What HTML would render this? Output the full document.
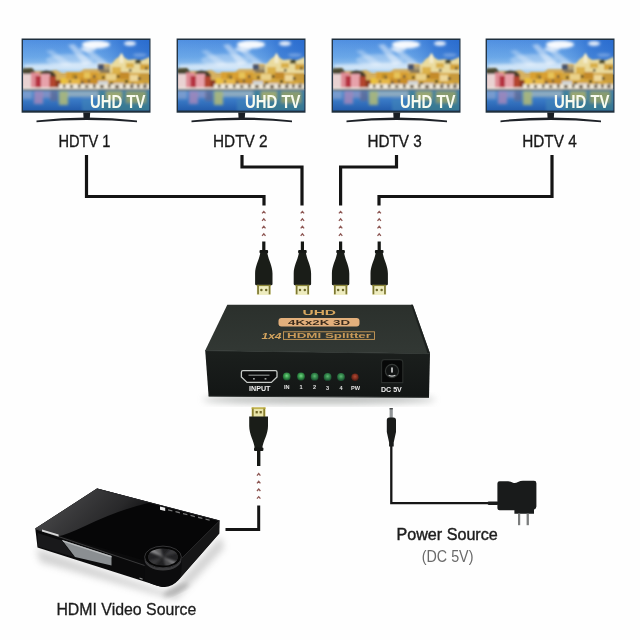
<!DOCTYPE html>
<html>
<head>
<meta charset="utf-8">
<title>1x4 HDMI Splitter connection diagram</title>
<style>
html,body{margin:0;padding:0;background:#fefefe;}
body{width:640px;height:640px;overflow:hidden;font-family:"Liberation Sans",sans-serif;}
svg{display:block;}
text{font-family:"Liberation Sans",sans-serif;}
</style>
</head>
<body>
<svg width="640" height="640" viewBox="0 0 640 640">
<defs>
  <filter id="b1" x="-20%" y="-20%" width="140%" height="140%"><feGaussianBlur stdDeviation="1"/></filter>
  <filter id="b2" x="-20%" y="-20%" width="140%" height="140%"><feGaussianBlur stdDeviation="2"/></filter>
  <filter id="b3" x="-30%" y="-30%" width="160%" height="160%"><feGaussianBlur stdDeviation="3.5"/></filter>
  <filter id="b6" x="-50%" y="-50%" width="200%" height="200%"><feGaussianBlur stdDeviation="6"/></filter>

  <filter id="b05" x="-20%" y="-20%" width="140%" height="140%"><feGaussianBlur stdDeviation="0.5"/></filter>
  <linearGradient id="topface" x1="0" y1="0" x2="0" y2="1">
    <stop offset="0" stop-color="#2b302c"/>
    <stop offset="1" stop-color="#323834"/>
  </linearGradient>
  <linearGradient id="frontface" x1="0" y1="0" x2="0" y2="1">
    <stop offset="0" stop-color="#1b1f1d"/>
    <stop offset="1" stop-color="#131615"/>
  </linearGradient>
  <linearGradient id="ptop" x1="0" y1="0" x2="1" y2="0.35">
    <stop offset="0" stop-color="#2a2a2c"/>
    <stop offset="0.45" stop-color="#121213"/>
    <stop offset="1" stop-color="#050505"/>
  </linearGradient>
  <linearGradient id="pgloss" x1="0" y1="0.2" x2="1" y2="0.6">
    <stop offset="0" stop-color="#646466" stop-opacity="0.8"/>
    <stop offset="0.7" stop-color="#404042" stop-opacity="0.6"/>
    <stop offset="1" stop-color="#2a2a2c" stop-opacity="0.3"/>
  </linearGradient>
  <radialGradient id="pdial" cx="0.35" cy="0.3" r="0.9">
    <stop offset="0" stop-color="#6a6a6c"/>
    <stop offset="0.55" stop-color="#2c2c2e"/>
    <stop offset="1" stop-color="#0a0a0a"/>
  </radialGradient>
  <filter id="b03" x="-10%" y="-20%" width="120%" height="140%"><feGaussianBlur stdDeviation="0.35"/></filter>
  <filter id="b07" x="-10%" y="-10%" width="120%" height="120%"><feGaussianBlur stdDeviation="0.85"/></filter>
  <filter id="b15" x="-20%" y="-20%" width="140%" height="140%"><feGaussianBlur stdDeviation="1.4"/></filter>
  <radialGradient id="ledg" cx="0.5" cy="0.42" r="0.55">
    <stop offset="0" stop-color="#7ad38a"/>
    <stop offset="0.45" stop-color="#3fa452"/>
    <stop offset="1" stop-color="#1a5a2e"/>
  </radialGradient>
  <radialGradient id="ledg2" cx="0.5" cy="0.42" r="0.55">
    <stop offset="0" stop-color="#5fb776"/>
    <stop offset="0.45" stop-color="#378c4e"/>
    <stop offset="1" stop-color="#1a5030"/>
  </radialGradient>
  <radialGradient id="ledr" cx="0.5" cy="0.42" r="0.55">
    <stop offset="0" stop-color="#b04a34"/>
    <stop offset="0.5" stop-color="#8a3222"/>
    <stop offset="1" stop-color="#4a1c14"/>
  </radialGradient>
  <linearGradient id="sky" x1="0" y1="0" x2="0" y2="1">
    <stop offset="0" stop-color="#4a8adf"/>
    <stop offset="0.5" stop-color="#6aa7e8"/>
    <stop offset="0.85" stop-color="#a4cdf0"/>
    <stop offset="1" stop-color="#c4ddf4"/>
  </linearGradient>
  <linearGradient id="skyh" x1="0" y1="0" x2="1" y2="0">
    <stop offset="0" stop-color="#6aa6e6" stop-opacity="0.2"/>
    <stop offset="0.5" stop-color="#6aa6e6" stop-opacity="0"/>
    <stop offset="0.8" stop-color="#1c5fc8" stop-opacity="0.5"/>
    <stop offset="1" stop-color="#1c5fc8" stop-opacity="0.7"/>
  </linearGradient>
  <linearGradient id="water" x1="0" y1="0" x2="0" y2="1">
    <stop offset="0" stop-color="#4c8cd0"/>
    <stop offset="0.5" stop-color="#3878c4"/>
    <stop offset="1" stop-color="#2058a8"/>
  </linearGradient>
  <clipPath id="dialclip"><ellipse cx="163" cy="557" rx="15.2" ry="8.8"/></clipPath>
  <clipPath id="scr"><rect x="0.9" y="0.9" width="126.4" height="70.5"/></clipPath>

  <!-- TV 128.5 x 84 -->
  <g id="tv">
    <rect x="-0.4" y="-0.5" width="128.9" height="74.2" fill="#1f2f3d"/>
    <g clip-path="url(#scr)">
      <rect x="0.5" y="0.5" width="127.5" height="35" fill="url(#sky)"/>
      <rect x="0.5" y="0.5" width="127.5" height="35" fill="url(#skyh)"/>
      <rect x="0.5" y="50" width="127.5" height="23" fill="url(#water)"/>
      <!-- clouds -->
      <g filter="url(#b15)" fill="#ffffff">
        <ellipse cx="74" cy="5.5" rx="14" ry="4" opacity="0.95"/>
        <ellipse cx="66" cy="10" rx="8" ry="3" opacity="0.6"/>
        <ellipse cx="108" cy="4.5" rx="6" ry="2.4" opacity="0.85"/>
        <path d="M46,6 L52,5 L70,24 L62,26 Z" opacity="0.45"/>
        <path d="M60,10 L66,9 L86,24 L78,26 Z" opacity="0.4"/>
        <path d="M24,12 L30,11 L50,25 L42,27 Z" opacity="0.3"/>
        <ellipse cx="48" cy="21" rx="24" ry="6" opacity="0.3"/>
        <path d="M2,25.5 L70,23.5 L92,25 L92,31 L2,31 Z" opacity="0.55"/>
        <ellipse cx="118" cy="16" rx="7" ry="1.8" opacity="0.3"/>
      </g>
      <!-- town -->
      <g filter="url(#b07)">
        <!-- base hill -->
        <path d="M0,30 L10,29 L12,32 L28,32 L34,31 L40,34 L58,33 L62,30 L76,30 L76,25 L88,25 L88,27 L94,20 L97,18 L99.5,14 L102,18.5 L106,21 L114,20.5 L117,22.5 L121,21 L128,18 L128,52 L0,52 Z" fill="#d6b060"/>
        <!-- left trees -->
        <path d="M0,29.5 L10,29 L13,32.5 L13,36 L0,36 Z" fill="#4b4a30"/>
        <path d="M18,33 L24,31.5 L31,32.5 L34,36 L34,39 L20,38 Z" fill="#4a3d2a"/>
        <!-- left buildings -->
        <rect x="0" y="35" width="10" height="15" fill="#e9d2d2"/>
        <rect x="9" y="33.5" width="9" height="16.5" fill="#df8c96"/>
        <rect x="13.5" y="37" width="5.5" height="13" fill="#b5303f"/>
        <rect x="19" y="35" width="9" height="15" fill="#e7a2ab"/>
        <rect x="27.5" y="37.5" width="6.5" height="12.5" fill="#b3442f"/>
        <rect x="33.5" y="41" width="5.5" height="9" fill="#8a3a22"/>
        <rect x="38.5" y="39" width="6" height="11.5" fill="#ebc23c"/>
        <!-- centre -->
        <rect x="44" y="33" width="32" height="13" fill="#d9a032"/>
        <rect x="44" y="40" width="14" height="6" fill="#e6b848"/>
        <rect x="58" y="39" width="18" height="7" fill="#c98f2c"/>
        <rect x="44" y="45.4" width="32" height="4.2" fill="#e6dcc6"/>
        <rect x="50" y="35" width="5" height="5" fill="#b88a28"/>
        <rect x="62" y="33.5" width="6" height="6" fill="#e7c45a"/>
        <g fill="#6c5a3a">
          <rect x="47" y="41" width="2" height="3"/><rect x="53" y="37" width="2" height="3"/><rect x="59" y="42" width="2.4" height="3"/><rect x="66" y="40.5" width="2" height="3"/><rect x="71" y="36" width="2.4" height="3"/><rect x="50" y="46.4" width="2" height="2.4"/><rect x="62" y="46.4" width="2" height="2.4"/><rect x="70" y="46.4" width="2" height="2.4"/>
        </g>
        <!-- dark building -->
        <rect x="76" y="25.4" width="6" height="6" fill="#44526e"/>
        <rect x="82" y="27" width="6" height="5" fill="#b0a078"/>
        <rect x="78" y="30.5" width="12" height="4" fill="#8a7a5a"/>
        <!-- right hill -->
        <path d="M88,27 L94,20 L97,18 L99.5,14 L102,18.5 L106,21 L114,20.5 L117,22.5 L121,21 L128,18 L128,34 L88,34 Z" fill="#eadb9e"/>
        <path d="M97.5,17.5 L99.5,14 L101.5,17.5 L101.5,24 L97.5,24 Z" fill="#f4eccc"/>
        <rect x="113" y="21" width="6" height="3.6" fill="#4c4a2c"/>
        <rect x="104" y="24" width="8" height="5" fill="#d8b04a"/>
        <rect x="118" y="25" width="10" height="6" fill="#d3a43c"/>
        <rect x="90" y="28" width="9" height="6" fill="#dcb24c"/>
        <rect x="76" y="34" width="52" height="16" fill="#d4a63c"/>
        <rect x="84" y="35" width="10" height="6" fill="#ead28a"/>
        <rect x="98" y="33" width="9" height="7" fill="#c48a2c"/>
        <rect x="108" y="36" width="8" height="6" fill="#eed89a"/>
        <rect x="118" y="34" width="10" height="8" fill="#c89a3a"/>
        <g fill="#4e4024">
          <rect x="80" y="37" width="2.4" height="3"/><rect x="95" y="36" width="2.4" height="3"/><rect x="103" y="41" width="3" height="3"/><rect x="109" y="44" width="3" height="4"/><rect x="116" y="38" width="2.4" height="3"/><rect x="122" y="44" width="3" height="3"/><rect x="88" y="43" width="3" height="3"/><rect x="107" y="30" width="2.4" height="2.6"/><rect x="123" y="28" width="2.4" height="2.6"/>
        </g>
        <rect x="76" y="42" width="10" height="5" fill="#cfd3d6"/>
        <rect x="92" y="44" width="10" height="4" fill="#d8c8b8"/>
        <!-- shoreline: boats + dark line -->
        <rect x="0" y="48.4" width="38" height="2" fill="#ece6e0"/>
        <rect x="37" y="45.2" width="91" height="5.2" fill="#efe9da"/>
        <g fill="#5a4a30">
          <rect x="41" y="45.6" width="2.4" height="3"/><rect x="48" y="46.2" width="3" height="2.6"/><rect x="56" y="45.4" width="2.4" height="3.4"/><rect x="63" y="46.4" width="3.4" height="2.4"/><rect x="71" y="45.4" width="2.6" height="3.4"/><rect x="78" y="46" width="3.6" height="3"/><rect x="86" y="45.4" width="2.4" height="3.4"/><rect x="93" y="46.2" width="4" height="3"/><rect x="101" y="45.4" width="2.6" height="3.6"/><rect x="108" y="46" width="3.4" height="3"/><rect x="115" y="45.4" width="2.6" height="3.4"/><rect x="121" y="46" width="3.6" height="3"/>
        </g>
        <rect x="0" y="50.3" width="128" height="1.5" fill="#3d5674"/>
      </g>
      <!-- reflections -->
      <g filter="url(#b15)">
        <rect x="0" y="52" width="10" height="8" fill="#c8c0d4" opacity="0.4"/>
        <rect x="12" y="52" width="9" height="13" fill="#b98ab8" opacity="0.7"/>
        <rect x="21" y="52" width="8" height="7" fill="#d0a6c0" opacity="0.4"/>
        <rect x="28" y="52" width="8" height="10" fill="#7a5a70" opacity="0.45"/>
        <rect x="37" y="52" width="9" height="14" fill="#bcc070" opacity="0.8"/>
        <rect x="46" y="52" width="30" height="6" fill="#d6d2b6" opacity="0.5"/>
        <rect x="76" y="52" width="52" height="21" fill="#3f8088" opacity="0.75"/>
        <rect x="84" y="52" width="16" height="9" fill="#b9b464" opacity="0.75"/>
        <rect x="104" y="52" width="20" height="12" fill="#a8a85c" opacity="0.7"/>
        <rect x="60" y="60" width="20" height="12" fill="#3f86b8" opacity="0.6"/>
      </g>
      <text x="68" y="68.7" font-size="18" font-weight="bold" fill="#f8fbef" textLength="55.4" lengthAdjust="spacingAndGlyphs" filter="url(#b03)">UHD TV</text>
    </g>
    <!-- stand -->
    <path d="M61.2,73.4 L68.2,73.4 L67.8,79 L61.6,79 Z" fill="#1a1f25"/>
    <path d="M14.5,81.4 Q64.7,75.6 115,81.4 L115,83.2 Q64.7,78.6 14.5,83.2 Z" fill="#1e2228"/>
  </g>

  <!-- HDMI plug pointing down; origin = cable centre x, y=0 at cable top (target y 241.5) -->
  <g id="plug">
    <rect x="-1.6" y="0" width="3.2" height="10" fill="#151714"/>
    <rect x="-4.3" y="8.6" width="8.6" height="3.2" rx="1" fill="#151714"/>
    <path d="M-3.5,11 L3.5,11 C4.3,18 8.7,24 8.7,32 L8.7,42.4 Q8.7,43.8 7.3,43.8 L-7.3,43.8 Q-8.7,43.8 -8.7,42.4 L-8.7,32 C-8.7,24 -4.3,18 -3.5,11 Z" fill="#1a1d18"/>
    <rect x="-7" y="43.4" width="14" height="10" fill="#eeecbf"/>
    <rect x="-6.6" y="43.4" width="1.7" height="9.4" fill="#7d7832"/>
    <rect x="4.9" y="43.4" width="1.7" height="9.4" fill="#7d7832"/>
    <rect x="-7" y="43.4" width="14" height="1.2" fill="#8c8638"/>
    <circle cx="-2.4" cy="48.6" r="1.25" fill="#6e6a2c"/>
    <circle cx="2.4" cy="48.6" r="1.25" fill="#6e6a2c"/>
  </g>

  <!-- 4 red chevrons, origin at centre x, first chevron apex y=0 -->
  <g id="chev" fill="none" stroke="#7a3a36" stroke-width="1.3" stroke-linejoin="miter" opacity="0.85">
    <path d="M-1.7,2.9 L0,0.9 L1.7,2.9"/>
    <path d="M-1.7,10.3 L0,8.3 L1.7,10.3"/>
    <path d="M-1.7,17.8 L0,15.8 L1.7,17.8"/>
    <path d="M-1.7,25.3 L0,23.3 L1.7,25.3"/>
  </g>


</defs>

<rect width="640" height="640" fill="#fefefe"/>

<!-- TVs -->
<use href="#tv" x="22" y="39"/>
<use href="#tv" x="177" y="39"/>
<use href="#tv" x="332" y="39"/>
<use href="#tv" x="486" y="39"/>

<!-- TV labels -->
<g font-size="15.6" fill="#1a1a1a" stroke="#1a1a1a" stroke-width="0.3" filter="url(#b03)">
  <text x="58.4" y="146.9" textLength="52" lengthAdjust="spacingAndGlyphs">HDTV 1</text>
  <text x="213" y="146.9" textLength="54.6" lengthAdjust="spacingAndGlyphs">HDTV 2</text>
  <text x="367.4" y="146.9" textLength="54.4" lengthAdjust="spacingAndGlyphs">HDTV 3</text>
  <text x="522.2" y="146.9" textLength="54.6" lengthAdjust="spacingAndGlyphs">HDTV 4</text>
</g>

<!-- connection lines -->
<g fill="none" stroke="#141414" stroke-width="3.2" stroke-linejoin="miter">
  <path d="M86.5,155 L86.5,196.5 L264,196.5 L264,205.6"/>
  <path d="M242,155 L242,167 L302,167 L302,205.6"/>
  <path d="M396.5,155 L396.5,167 L340.6,167 L340.6,205.6"/>
  <path d="M552,155 L552,196.5 L379,196.5 L379,205.6"/>
</g>

<!-- chevrons -->
<use href="#chev" x="263.8" y="210.5"/>
<use href="#chev" x="302.4" y="210.5"/>
<use href="#chev" x="340.6" y="210.5"/>
<use href="#chev" x="379.2" y="210.5"/>

<!-- plugs -->
<use href="#plug" x="263.8" y="241.5"/>
<use href="#plug" x="302.4" y="241.5"/>
<use href="#plug" x="340.6" y="241.5"/>
<use href="#plug" x="379.2" y="241.5"/>

<!-- ============ SPLITTER ============ -->
<g id="splitter">
  <!-- soft shadow under box -->
  <ellipse cx="319" cy="399.5" rx="116" ry="4.5" fill="#8a8f8c" opacity="0.6" filter="url(#b3)"/>
  <!-- top face -->
  <path d="M227.3,304.8 L412.8,304.8 L430,353.6 L205.2,350.6 Z" fill="url(#topface)"/>
  <!-- thin right side strip -->
  <path d="M411,304.8 L412.8,304.8 L430,353.6 L427.6,353.6 Z" fill="#1d211f"/>
  <!-- front face -->
  <path d="M205.2,350.6 L430,353.6 L429,397.2 L208.6,396 Z" fill="url(#frontface)"/>
  <!-- edge highlight between faces -->
  <path d="M205.2,350.6 L430,353.6" stroke="#333936" stroke-width="1" fill="none"/>
  <path d="M208.6,396.2 L429,397.4" stroke="#2c302e" stroke-width="1" fill="none"/>

  <!-- top printing -->
  <g filter="url(#b05)">
  <text x="302.5" y="315" font-size="7" font-weight="bold" fill="#d9a860" textLength="33.5" lengthAdjust="spacingAndGlyphs">UHD</text>
  <rect x="278.5" y="318" width="81" height="8.6" rx="3" fill="#e3b07c"/>
  <text x="288" y="325" font-size="7.2" font-weight="bold" fill="#3a2c1c" textLength="62" lengthAdjust="spacingAndGlyphs">4Kx2K 3D</text>
  <text x="261.5" y="338.8" font-size="8.5" font-weight="bold" font-style="italic" fill="#d4a45e" textLength="20" lengthAdjust="spacingAndGlyphs">1x4</text>
  <rect x="283.5" y="331.8" width="91" height="7.6" fill="none" stroke="#c99a58" stroke-width="0.9"/>
  <text x="287" y="338.2" font-size="6.6" font-weight="bold" fill="#c99a58" textLength="84" lengthAdjust="spacingAndGlyphs">HDMI Splitter</text>

  </g>
  <!-- HDMI input port -->
  <path d="M243,370.7 L275.4,370.7 Q277,370.7 277,372.3 L277,377 L271.4,382.4 L247,382.4 L241.4,377 L241.4,372.3 Q241.4,370.7 243,370.7 Z" fill="#0b0c0c" stroke="#c6cac7" stroke-width="1.3" stroke-linejoin="round"/>
  <path d="M248.5,375.2 L269.5,375.2" stroke="#858987" stroke-width="1.2" fill="none"/>
  <rect x="253" y="378" width="1.8" height="1.6" fill="#9a9e9c"/>
  <rect x="264.6" y="378" width="1.8" height="1.6" fill="#9a9e9c"/>
  <text x="249" y="390.5" font-size="6.6" font-weight="bold" fill="#f2f2f2" textLength="21.4" lengthAdjust="spacingAndGlyphs" filter="url(#b03)">INPUT</text>

  <!-- LEDs -->
  <g filter="url(#b05)">
    <circle cx="286.7" cy="376.4" r="3.9" fill="url(#ledg)"/>
    <circle cx="301" cy="376.5" r="3.9" fill="url(#ledg)"/>
    <circle cx="314.6" cy="376.7" r="3.9" fill="url(#ledg2)"/>
    <circle cx="327.6" cy="376.9" r="3.9" fill="url(#ledg2)"/>
    <circle cx="341" cy="377" r="3.9" fill="url(#ledg2)"/>
    <circle cx="355" cy="377.2" r="3.7" fill="url(#ledr)"/>
  </g>
  <g font-size="5.6" font-weight="bold" fill="#e2e2e2" text-anchor="middle" filter="url(#b03)">
    <text x="286.7" y="389">IN</text>
    <text x="301" y="389.2">1</text>
    <text x="314.6" y="389.4">2</text>
    <text x="327.6" y="389.6">3</text>
    <text x="341" y="389.8">4</text>
    <text x="355.6" y="390">PW</text>
  </g>

  <!-- DC jack -->
  <path d="M381.6,362.4 Q381.6,359.6 384.4,359.6 L400,359.6 Q402.8,359.6 402.8,362.4 L402.8,382.6 L381.6,382.6 Z" fill="#070808" stroke="#2b2f2d" stroke-width="1.1"/>
  <circle cx="392" cy="371" r="6.6" fill="#111313" stroke="#353937" stroke-width="1.2"/>
  <rect x="391.2" y="367.2" width="1.6" height="5.6" rx="0.8" fill="#d8dada"/>
  <path d="M388.6,375.2 Q392,377 395.4,375.2" fill="none" stroke="#c8caca" stroke-width="1.1"/>
  <text x="381" y="392.2" font-size="6.6" font-weight="bold" fill="#efefef" textLength="20.8" lengthAdjust="spacingAndGlyphs" filter="url(#b03)">DC 5V</text>
</g>

<!-- ============ INPUT CABLE (plug pointing up) ============ -->
<g id="inplug">
  <rect x="251.6" y="407.4" width="14" height="9.6" fill="#e9e4a8"/>
  <rect x="251.9" y="407.8" width="1.8" height="9" fill="#8a8030"/>
  <rect x="263.3" y="407.8" width="1.8" height="9" fill="#8a8030"/>
  <rect x="251.6" y="407.4" width="14" height="1.4" fill="#b9a83e"/>
  <rect x="255.6" y="411" width="2.2" height="2.4" fill="#6e6426"/>
  <rect x="259.6" y="411" width="2.2" height="2.4" fill="#6e6426"/>
  <path d="M249.2,416.4 L268,416.4 L268,426 C268,434.5 263,441 262.2,448.5 L254.8,448.5 C254,441 249.2,434.5 249.2,426 Z" fill="#1a1d18"/>
  <rect x="254" y="447.6" width="9.4" height="3.4" rx="1" fill="#151714"/>
  <rect x="257" y="450" width="3.4" height="16" fill="#151714"/>
</g>
<g fill="none" stroke="#7a3a36" stroke-width="1.3" opacity="0.85">
  <path d="M257,475.6 L258.7,473.6 L260.4,475.6"/>
  <path d="M257,483.3 L258.7,481.3 L260.4,483.3"/>
  <path d="M257,491 L258.7,489 L260.4,491"/>
  <path d="M257,498.7 L258.7,496.7 L260.4,498.7"/>
</g>
<path d="M258.7,505.5 L258.7,529.5 L225.5,529.5" fill="none" stroke="#141414" stroke-width="3"/>

<!-- ============ BLU-RAY PLAYER ============ -->
<g id="player">
  <!-- ground shadow / reflection -->
  <path d="M36,548 L160,590 Q170,592 177,584 L221,536 L224,548 L176,600 L40,562 Z" fill="#8c8c8c" opacity="0.38" filter="url(#b3)"/>
  <ellipse cx="176" cy="590" rx="14" ry="3.5" fill="#777" opacity="0.35" filter="url(#b2)" transform="rotate(-25 176 590)"/>
  <!-- side + front faces (one dark silhouette) -->
  <path d="M35.3,528.5 L97,488.6 L219.4,520.5 L219.2,533.5 L178,580.5 Q170.5,588.8 160,586.4 L37.5,547.6 Z" fill="#0a0a0b"/>
  <!-- right side face slightly lighter -->
  <path d="M181.4,558 L219.4,520.5 L219.2,533.5 L178,580.5 Q181.6,575 181.4,558 Z" fill="#161617"/>
  <!-- top face -->
  <path d="M35.3,528.5 L97,488.6 L219.4,520.5 L181.4,558 L144.6,560.5 Z" fill="#060607"/>
  <!-- glossy reflection on top -->
  <path d="M35.3,528.5 L97,488.6 L150,502.4 Q118,510 84,526.5 Q66,535 58,536.2 Z" fill="url(#pgloss)"/>
  <!-- edges -->
  <path d="M35.3,528.8 L145,565.6" fill="none" stroke="#3e3e40" stroke-width="0.9"/>
  <path d="M181.6,558.4 L219.4,520.9" fill="none" stroke="#2e2e30" stroke-width="0.8"/>
  <path d="M97,488.9 L219.4,520.8" fill="none" stroke="#2a2a2c" stroke-width="0.7"/>
  <!-- display window on front -->
  <path d="M62,540 L111.5,556 L111.5,565.6 L75,557 Z" fill="#8b8f92"/>
  <path d="M62,540 L111.5,556 L111.5,557.6 L63.2,541.8 Z" fill="#b9bcbe"/>
  <path d="M37.5,533 L62,540.8 L74,557 L38,546.5 Z" fill="#19191b"/>
  <!-- logo -->
  <path d="M42,529.6 L58.6,534.6 L58.6,536.6 L42,531.6 Z" fill="#d8d8d8"/>
  <!-- dial (cylinder at the front-right corner) -->
  <path d="M144.6,557 A18.4,10.9 0 0 0 181.4,557 L181.4,572 Q180,584 163,587 Q150,585 144.6,579 Z" fill="#0c0c0d"/>
  <path d="M144.6,557 A18.4,10.9 0 0 0 181.4,557 L181.4,559.6 A18.4,10.9 0 0 1 144.6,559.6 Z" fill="#3c3c3e"/>
  <ellipse cx="163" cy="557" rx="18.4" ry="10.9" fill="#050505" stroke="#3a3a3c" stroke-width="0.9"/>
  <g clip-path="url(#dialclip)">
    <ellipse cx="163" cy="557" rx="15.2" ry="8.8" fill="#222224"/>
    <g filter="url(#b1)">
      <path d="M163,557 L146,550.5 L152,547 Z" fill="#8a8a8c"/>
      <path d="M163,557 L152,547 L160,546 Z" fill="#5a5a5c"/>
      <path d="M163,557 L180,563 L175,566.5 Z" fill="#7c7c7e"/>
      <path d="M163,557 L175,566.5 L166,568 Z" fill="#4a4a4c"/>
      <path d="M163,557 L172,547.5 L180,552 Z" fill="#3a3a3c"/>
      <path d="M163,557 L147,561 L154,566 Z" fill="#38383a"/>
    </g>
  </g>
  <!-- icons on top right -->
  <g fill="#ececec">
    <path d="M160,506.4 L165.2,507.7 L165.2,511 L160,509.7 Z"/>
    <g opacity="0.5">
    <path d="M168,509.2 L172.4,510.3 L172.4,511.6 L168,510.5 Z"/>
    <path d="M175.5,511 L179.9,512.1 L179.9,513.4 L175.5,512.3 Z"/>
    <path d="M183,512.9 L187.4,514 L187.4,515.3 L183,514.2 Z"/>
    <path d="M190.5,514.8 L194.9,515.9 L194.9,517.2 L190.5,516.1 Z"/>
    <path d="M198,516.6 L202.4,517.7 L202.4,519 L198,517.9 Z"/>
    <path d="M205.5,518.5 L209.6,519.5 L209.6,520.8 L205.5,519.8 Z"/>
    </g>
  </g>
  <path d="M139.5,577.4 L142.6,578.4 L142.6,579.8 L139.5,578.8 Z" fill="#8a8a8a"/>
</g>
<text x="56.4" y="614.6" font-size="16.2" fill="#1c1c1c" stroke="#1c1c1c" stroke-width="0.3" filter="url(#b03)" textLength="140" lengthAdjust="spacingAndGlyphs">HDMI Video Source</text>

<!-- ============ POWER ============ -->
<g id="power">
  <!-- DC barrel plug -->
  <rect x="389.6" y="408" width="3.2" height="10.4" rx="0.8" fill="#909496"/>
  <rect x="389.6" y="408" width="3.2" height="1.4" fill="#4a4c4c"/>
  <path d="M386.8,420.2 Q386.8,417.6 389.4,417.6 L393.4,417.6 Q396,417.6 396,420.2 L396,432 L393.7,442.6 L393.7,446.4 L389.1,446.4 L389.1,442.6 L386.8,432 Z" fill="#191b1a"/>
  <path d="M391.3,446 L391.3,503.2 L498,503.2" fill="none" stroke="#161616" stroke-width="2.3"/>
  <!-- adapter -->
  <rect x="487.5" y="501.4" width="11" height="3.6" rx="1.4" fill="#1b1c1c"/>
  <path d="M497.4,483.4 Q497.4,481.2 499.6,481.2 L508,481.2 Q511,481.4 513,482.8 Q515.4,483.6 518,482 Q520.4,480.8 523,480.8 L534,480.8 Q536.4,480.8 536.4,483.2 L536.4,506.6 Q536.4,509 534,509.4 L534,513.8 L514.4,513.8 L514.4,510.2 L499.6,510.2 Q497.4,510.2 497.4,508 Z" fill="#191b1b"/>
  <rect x="518" y="513.6" width="2.2" height="11.6" fill="#7b7d7d"/>
  <rect x="526.6" y="513.6" width="2.3" height="11.6" fill="#7b7d7d"/>
</g>
<text x="396.4" y="540.2" font-size="16" fill="#1c1c1c" stroke="#1c1c1c" stroke-width="0.4" filter="url(#b03)" textLength="101.4" lengthAdjust="spacingAndGlyphs">Power Source</text>
<text x="421.8" y="562.4" font-size="16.2" fill="#6a6a6a" filter="url(#b03)" textLength="51.6" lengthAdjust="spacingAndGlyphs">(DC 5V)</text>

</svg>
</body>
</html>
